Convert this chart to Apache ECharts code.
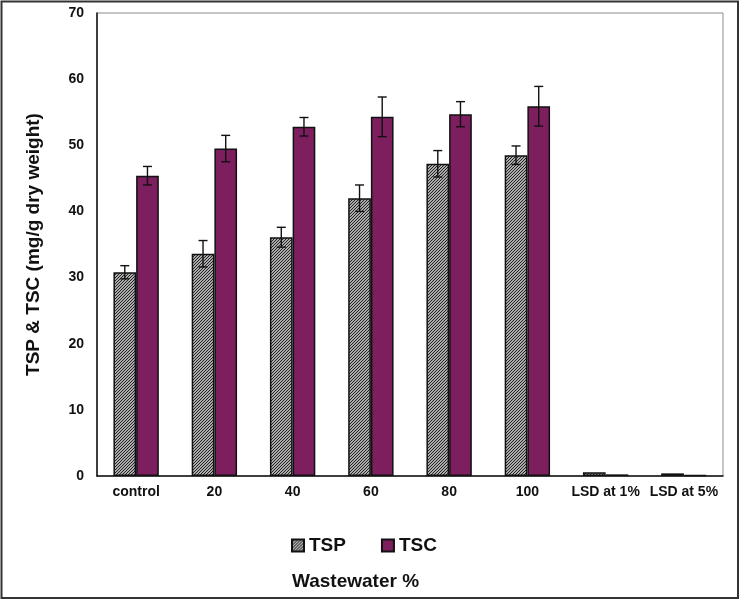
<!DOCTYPE html>
<html>
<head>
<meta charset="utf-8">
<script src="https://cdn.jsdelivr.net/npm/echarts@6/dist/echarts.min.js"></script>
<style>
html,body{margin:0;padding:0;background:#fff;}
#chart{width:741px;height:600px;}
</style>
</head>
<body>
<div id="chart"></div>
<script>
const categories = ['control', '20', '40', '60', '80', '100', 'LSD at 1%', 'LSD at 5%'];
const tspValues = [30.8, 33.6, 36.1, 42.0, 47.2, 48.5, 0.56, 0.4];
const tscValues = [45.4, 49.5, 52.8, 54.3, 54.7, 55.9, 0.25, 0.12];
const tspErrors = [1.0, 2.0, 1.5, 2.0, 2.0, 1.4, null, null];
const tscErrors = [1.4, 2.0, 1.4, 3.0, 1.9, 3.0, null, null];
const yTicks = [0, 10, 20, 30, 40, 50, 60, 70];

function makeHatch() {
  const c = document.createElement('canvas');
  c.width = 3; c.height = 3;
  const g = c.getContext('2d');
  g.fillStyle = '#e6e6e6';
  g.fillRect(0, 0, 3, 3);
  g.strokeStyle = '#1a1a1a';
  g.lineWidth = 1.1;
  g.beginPath();
  g.moveTo(-1, 4); g.lineTo(4, -1);
  g.moveTo(-1, 1); g.lineTo(1, -1);
  g.moveTo(2, 4); g.lineTo(4, 2);
  g.stroke();
  return c;
}
const hatch = { image: makeHatch(), repeat: 'repeat' };
const BAR_FRAC = 0.29;

function errorSeries(values, errs, side) {
  return {
    type: 'custom',
    silent: true,
    z: 10,
    data: values.map((v, i) => [i, v, errs[i]]),
    renderItem: function (params, api) {
      const e = api.value(2);
      if (e === null || e === undefined || isNaN(e)) return null;
      const x = api.value(0), v = api.value(1);
      const band = api.size([1, 0])[0];
      const off = side * band * BAR_FRAC / 2;
      const top = api.coord([x, v + e]);
      const bot = api.coord([x, v - e]);
      const cx = top[0] + off;
      const cap = 4.5;
      const st = { stroke: '#111', lineWidth: 1.4 };
      return {
        type: 'group',
        children: [
          { type: 'line', shape: { x1: cx, y1: top[1], x2: cx, y2: bot[1] }, style: st },
          { type: 'line', shape: { x1: cx - cap, y1: top[1], x2: cx + cap, y2: top[1] }, style: st },
          { type: 'line', shape: { x1: cx - cap, y1: bot[1], x2: cx + cap, y2: bot[1] }, style: st }
        ]
      };
    }
  };
}

const chart = echarts.init(document.getElementById('chart'), null, { renderer: 'canvas' });
const font = '"Liberation Sans", Arial, sans-serif';
chart.setOption({
  backgroundColor: '#fff',
  animation: false,
  textStyle: { fontFamily: font },
  grid: { left: 97, right: 18, top: 13, bottom: 124, show: true, borderColor: '#8c8c8c', borderWidth: 1 },
  legend: {
    data: ['TSP', 'TSC'],
    left: 286, top: 531,
    icon: 'rect', itemWidth: 12, itemHeight: 12, itemGap: 35,
    textStyle: { fontFamily: font, fontSize: 19, fontWeight: 'bold', color: '#111' }
  },
  xAxis: {
    type: 'category',
    data: categories,
    axisLine: { lineStyle: { color: '#111', width: 1.5 } },
    axisTick: { show: false },
    axisLabel: { interval: 0, margin: 9, fontFamily: font, fontSize: 14, fontWeight: 'bold', color: '#111' }
  },
  yAxis: {
    type: 'value',
    min: 0, max: 70, interval: 10,
    name: 'TSP & TSC (mg/g dry weight)',
    nameLocation: 'middle', nameGap: 54, nameRotate: 90,
    nameTextStyle: { fontFamily: font, fontSize: 19, fontWeight: 'bold', color: '#111' },
    axisLine: { show: true, lineStyle: { color: '#111', width: 1.5 } },
    axisTick: { show: false },
    splitLine: { show: false },
    axisLabel: {
      margin: 13, fontFamily: font, fontSize: 14, fontWeight: 'bold', color: '#111',
      formatter: function (v) { return yTicks.indexOf(v) >= 0 ? String(v) : ''; }
    }
  },
  series: [
    {
      name: 'TSP', type: 'bar', data: tspValues,
      barWidth: (BAR_FRAC * 100) + '%', barGap: '0%',
      itemStyle: { color: hatch, borderColor: '#111', borderWidth: 1.5 }
    },
    {
      name: 'TSC', type: 'bar', data: tscValues,
      barWidth: (BAR_FRAC * 100) + '%', barGap: '0%',
      itemStyle: { color: '#7d1f5e', borderColor: '#111', borderWidth: 1.5 }
    },
    errorSeries(tspValues, tspErrors, -1),
    errorSeries(tscValues, tscErrors, 1)
  ],
  graphic: [
    { type: 'text', left: 292, top: 572, style: { text: 'Wastewater %', fontFamily: font, fontSize: 19, fontWeight: 'bold', fill: '#111' } },
    { type: 'rect', shape: { x: 1.5, y: 1.5, width: 736.5, height: 596.5 }, style: { fill: 'none', stroke: '#333', lineWidth: 2 }, silent: true }
  ]
});
</script>
</body>
</html>
